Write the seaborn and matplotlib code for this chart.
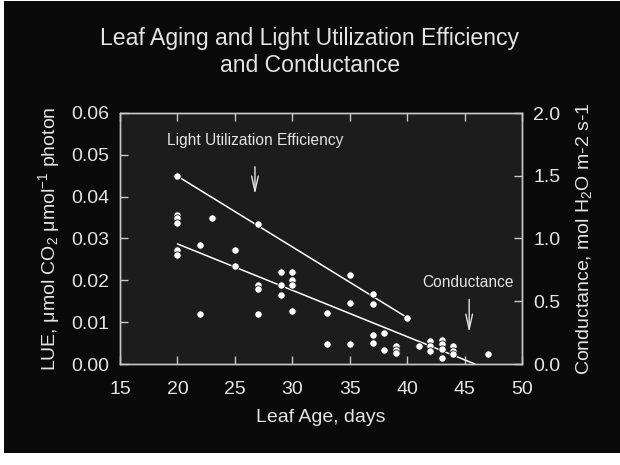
import numpy as np
import pandas as pd
import matplotlib
matplotlib.use('Agg')
import matplotlib.pyplot as plt
import seaborn as sns
from matplotlib.patches import Rectangle

# LUE points (left axis)
lue_days = [20, 27, 35, 37, 40]
lue_vals = [0.0449, 0.0335, 0.0213, 0.0168, 0.0111]

# conductance points (right axis)
cond_days = [20, 20, 20, 20, 20, 22, 22, 23, 25, 25, 27, 27, 27,
             29, 29, 29, 30, 30, 30, 30, 33, 33, 35, 35, 37, 37, 37,
             38, 38, 39, 39, 39, 41, 42, 42, 42, 43, 43, 43, 43,
             44, 44, 44, 47]
cond_vals = [1.19, 1.16, 1.12, 0.91, 0.87, 0.95, 0.40, 1.16, 0.91, 0.78,
             0.63, 0.60, 0.40, 0.73, 0.63, 0.55, 0.73, 0.67, 0.63, 0.42,
             0.41, 0.16, 0.49, 0.16, 0.48, 0.23, 0.17, 0.25, 0.11,
             0.14, 0.11, 0.09, 0.14, 0.18, 0.14, 0.10, 0.19, 0.16, 0.12,
             0.05, 0.14, 0.10, 0.08, 0.08]

# regression lines
lue_fit_days = [20, 40]
lue_fit = [0.0449, 0.0111]
cond_fit_days = [20, 45.9]
cond_fit = [0.957, 0.0]

lue_ticks = [0.00, 0.01, 0.02, 0.03, 0.04, 0.05, 0.06]
cond_ticks = [0.0, 0.5, 1.0, 1.5, 2.0]
day_ticks = [15, 20, 25, 30, 35, 40, 45, 50]

fg = '#e4e4e4'
spine = '#c8c8c8'

sns.set_theme(style='dark')
plt.rcParams['font.family'] = ['Liberation Sans', 'DejaVu Sans']
plt.rcParams['mathtext.fontset'] = 'custom'
plt.rcParams['mathtext.rm'] = 'Liberation Sans'
plt.rcParams['mathtext.it'] = 'Liberation Sans:italic'

W, H = 620, 465
fig = plt.figure(figsize=(6.2, 4.65), dpi=100, facecolor='white')
fig.patches.append(Rectangle((4 / W, 12 / H), 1, 1 - 13 / H, transform=fig.transFigure,
                             facecolor='#0a0a0a', edgecolor='none', zorder=-5))

ax = fig.add_axes([120 / W, 1 - 364 / H, 402 / W, 251 / H])
ax.set_facecolor('#1c1c1c')
ax2 = ax.twinx()

lue_df = pd.DataFrame({'day': lue_days, 'lue': lue_vals})
cond_df = pd.DataFrame({'day': cond_days, 'cond': cond_vals})

sns.lineplot(x=lue_fit_days, y=lue_fit, ax=ax, color='white', lw=1.1, zorder=2)
sns.scatterplot(data=lue_df, x='day', y='lue', ax=ax, color='white',
                edgecolor='#1c1c1c', linewidth=0.6, s=28, zorder=3)
sns.lineplot(x=cond_fit_days, y=cond_fit, ax=ax2, color='white', lw=1.1, zorder=2)
sns.scatterplot(data=cond_df, x='day', y='cond', ax=ax2, color='white',
                edgecolor='#1c1c1c', linewidth=0.6, s=28, zorder=3)

ax.set_xlim(15, 50)
ax.set_ylim(0, 0.06)
ax2.set_ylim(0, 2.0)
ax.set_xticks(day_ticks)
ax.set_yticks(lue_ticks)
ax.set_yticklabels([f'{v:.2f}' for v in lue_ticks])
ax2.set_yticks(cond_ticks)
ax2.set_yticklabels([f'{v:.1f}' for v in cond_ticks])

for a in (ax, ax2):
    a.grid(False)
    for s in a.spines.values():
        s.set_visible(True)
        s.set_color(spine)
        s.set_linewidth(1.0)
ax.tick_params(axis='both', direction='in', length=6, width=1, color=spine,
               labelcolor=fg, labelsize=14, pad=8, top=True, bottom=True, left=True)
ax.tick_params(axis='x', labeltop=False, pad=12)
ax2.tick_params(axis='y', direction='in', length=6, width=1, color=spine,
                labelcolor=fg, labelsize=14, pad=8, right=True)

ax.set_xlabel('Leaf Age, days', color=fg, fontsize=14, labelpad=8)
ax.set_ylabel(r'LUE, μmol CO$_2$ μmol$^{-1}$ photon', color=fg, fontsize=14, labelpad=6)
ax2.set_ylabel(r'Conductance, mol H$_2$O m-2 s-1', color=fg, fontsize=14, labelpad=10)

ax.annotate('', xy=(26.75, 0.0399), xytext=(26.75, 0.0478),
            arrowprops=dict(arrowstyle='->,head_length=0.9,head_width=0.2',
                            color=fg, lw=1))
ax.text(26.8, 0.0535, 'Light Utilization Efficiency', color=fg, fontsize=11.2,
        ha='center', va='center')
ax.annotate('', xy=(45.4, 0.0069), xytext=(45.4, 0.0161),
            arrowprops=dict(arrowstyle='->,head_length=0.9,head_width=0.2',
                            color=fg, lw=1))
ax.text(45.3, 0.0194, 'Conductance', color=fg, fontsize=11.2,
        ha='center', va='center')

fig.text(0.5, 1 - 52 / H, 'Leaf Aging and Light Utilization Efficiency\nand Conductance',
         color=fg, fontsize=16.6, ha='center', va='center', linespacing=1.2)

fig.savefig('out.png', dpi=100, facecolor=fig.get_facecolor())
